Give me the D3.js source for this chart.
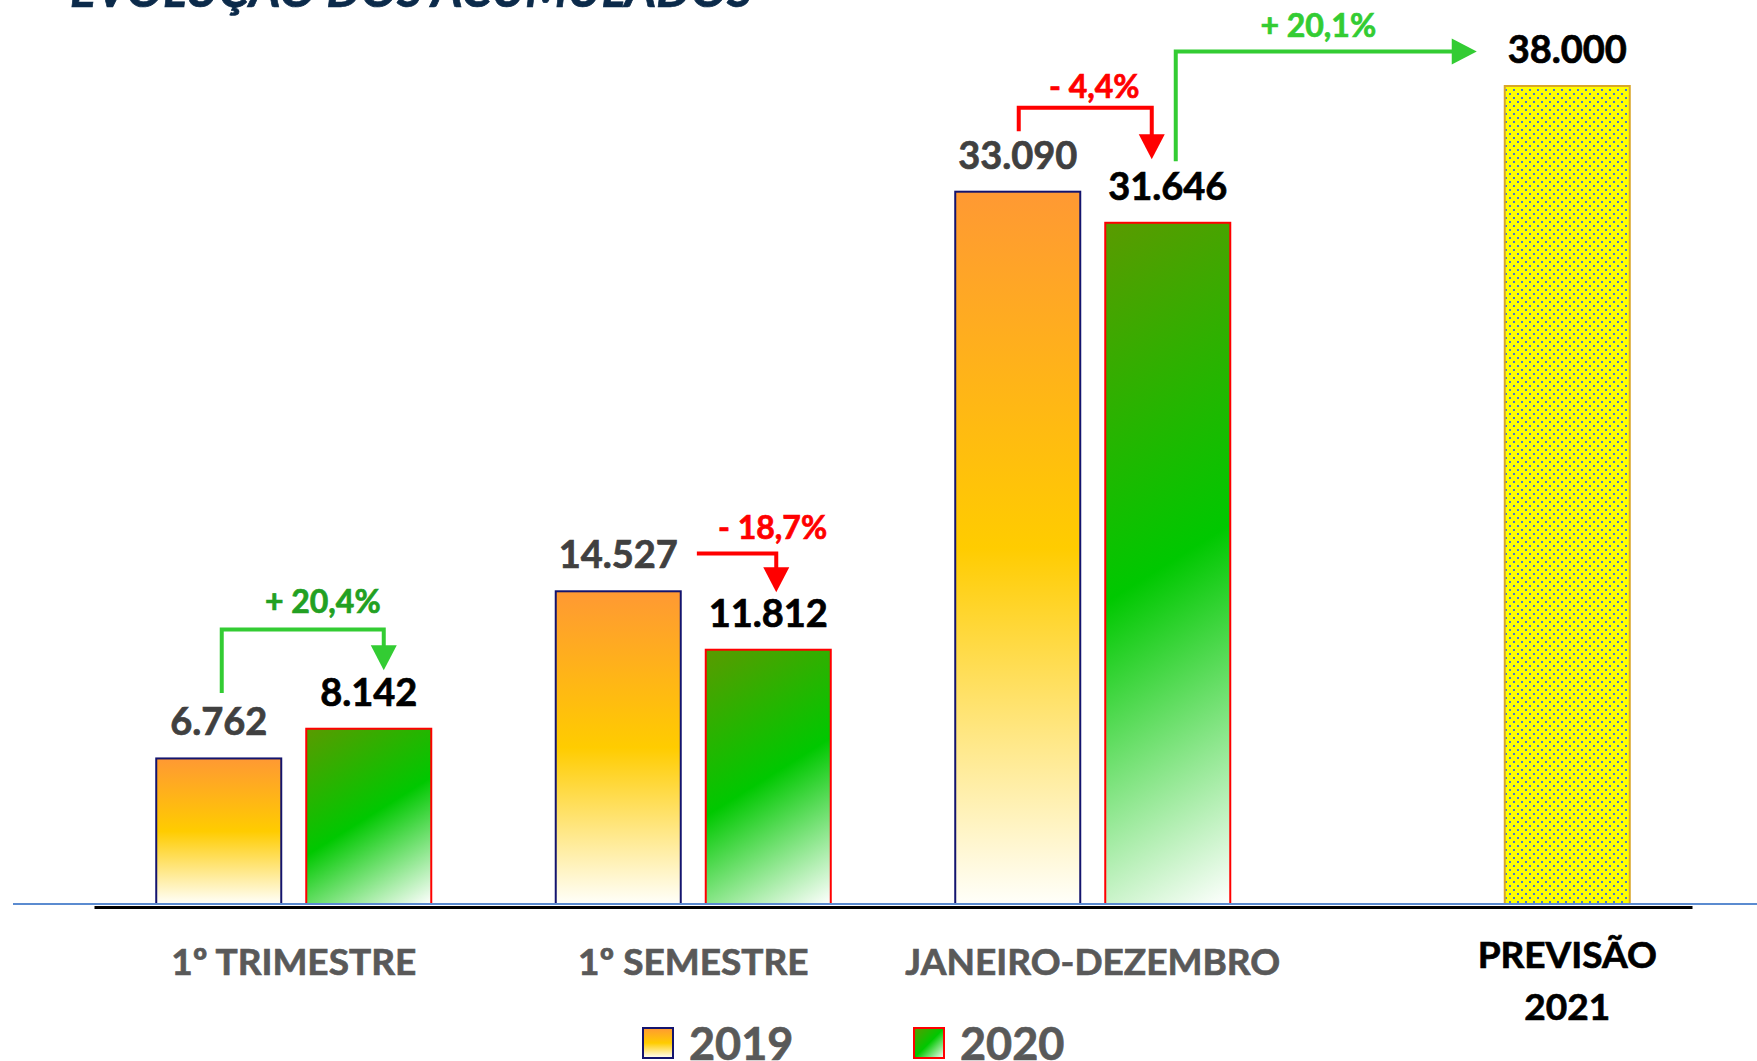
<!DOCTYPE html>
<html>
<head>
<meta charset="utf-8">
<script src="https://cdn.jsdelivr.net/npm/d3@7"></script>
<style>
  html, body { margin: 0; padding: 0; background: #fff; }
  svg { display: block; font-family: Lato, "Noto Sans", sans-serif; }
  .heavy { stroke-width: 0.7px; paint-order: stroke; }
</style>
</head>
<body>
<div id="chart"></div>
<script>
// data
const categories = ["1º TRIMESTRE", "1º SEMESTRE", "JANEIRO-DEZEMBRO", "PREVISÃO\n2021"];
const values2019 = [6762, 14527, 33090, null];
const values2020 = [8142, 11812, 31646, null];
const forecast2021 = [null, null, null, 38000];
const legendLabels = ["2019", "2020"];

// variation arrows: from bar -> to bar, text, height of the bracket (in value units)
const changeLabels = ["+ 20,4%", "- 18,7%", "- 4,4%", "+ 20,1%"];
const changeFrom = [[0, "2019"], [1, "2019"], [2, "2019"], [2, "2020"]];
const changeTo = [[0, "2020"], [1, "2020"], [2, "2020"], [3, "2021"]];
const changeLevels = [12750, 16280, 36990, 39600];

// arrow drawing styles (offsets relative to bars / labels)
const arrowStyle = [
  { kind: "bracket", line: "#33CC33", text: "#22A022", dx0: 3, dx1: 15, gap0: 15, gap1: 8, tdx: 20, tdy: -17 },
  { kind: "side",    line: "#FF0000", text: "#FF0000", dx0: 19, dx1: 8, gap1: 7, tdx: 36, tdy: -15 },
  { kind: "bracket", line: "#FF0000", text: "#FF0000", dx0: 1, dx1: -16, gap0: 10, gap1: 13, tdx: 9, tdy: -10 },
  { kind: "right",   line: "#33CC33", text: "#33CC33", dx0: 8, gap0: 11, dx1: -28, tdx: -8, tdy: -15 }
];

const width = 1757, height = 1061;
const baseY = 904;

const fmt = d3.formatLocale({ decimal: ",", thousands: ".", grouping: [3], currency: ["", ""] }).format(",d");

const svg = d3.select("#chart").append("svg")
  .attr("width", width)
  .attr("height", height);

const defs = svg.append("defs");

// 2019 fill: orange -> yellow -> white, top to bottom
const g19 = defs.append("linearGradient").attr("id", "g2019")
  .attr("x1", 0).attr("y1", 0).attr("x2", 0).attr("y2", 1);
g19.append("stop").attr("offset", 0).attr("stop-color", "#FF9933");
g19.append("stop").attr("offset", 0.5).attr("stop-color", "#FFCC00");
g19.append("stop").attr("offset", 1).attr("stop-color", "#FFFFFA");

// legend swatch for 2020
const g20l = defs.append("linearGradient").attr("id", "g2020legend")
  .attr("x1", 0).attr("y1", 0).attr("x2", 1).attr("y2", 1);
g20l.append("stop").attr("offset", 0).attr("stop-color", "#5A9A00");
g20l.append("stop").attr("offset", 0.5).attr("stop-color", "#00C800");
g20l.append("stop").attr("offset", 1).attr("stop-color", "#FFFFFF");

// dotted yellow pattern for the forecast
const pat = defs.append("pattern").attr("id", "dots")
  .attr("patternUnits", "userSpaceOnUse").attr("width", 8).attr("height", 8);
pat.append("rect").attr("width", 8).attr("height", 8).attr("fill", "#FFFF00");
pat.append("rect").attr("x", 1).attr("y", 1).attr("width", 2).attr("height", 2).attr("fill", "#4A78CC");
pat.append("rect").attr("x", 5).attr("y", 5).attr("width", 2).attr("height", 2).attr("fill", "#4A78CC");

// scales
const x0 = d3.scaleBand()
  .domain(d3.range(categories.length))
  .range([94, 1692])
  .paddingInner(0.3116)
  .paddingOuter(0.1558);

const x1 = d3.scaleBand()
  .domain(["2019", "2020"])
  .range([0, x0.bandwidth()])
  .paddingInner(25 / 150);

const y = d3.scaleLinear().domain([0, 38000]).range([baseY, 86]);

// flatten the bars
const bars = [];
categories.forEach((c, i) => {
  if (values2019[i] != null) bars.push({ i, key: "2019", slot: "2019", v: values2019[i] });
  if (values2020[i] != null) bars.push({ i, key: "2020", slot: "2020", v: values2020[i] });
  if (forecast2021[i] != null) bars.push({ i, key: "2021", slot: "2020", v: forecast2021[i] });
});
bars.forEach(d => {
  d.x = x0(d.i) + x1(d.slot);
  d.w = x1.bandwidth();
  d.y = y(d.v);
  d.h = baseY - d.y;
  d.cx = d.x + d.w / 2;
});
const findBar = (i, key) => bars.find(b => b.i === i && b.key === key);

// per-bar diagonal gradient for 2020
const ang = 58 * Math.PI / 180;
bars.filter(d => d.key === "2020").forEach((d, k) => {
  d.gid = "g2020_" + k;
  const L = d.w * Math.cos(ang) + d.h * Math.sin(ang);
  const g = defs.append("linearGradient").attr("id", d.gid)
    .attr("gradientUnits", "userSpaceOnUse")
    .attr("x1", d.x).attr("y1", d.y)
    .attr("x2", d.x + L * Math.cos(ang)).attr("y2", d.y + L * Math.sin(ang));
  g.append("stop").attr("offset", 0).attr("stop-color", "#5A9A00");
  g.append("stop").attr("offset", 0.5).attr("stop-color", "#00C800");
  g.append("stop").attr("offset", 1).attr("stop-color", "#FFFFFF");
});

const fillOf = d => d.key === "2019" ? "url(#g2019)" : d.key === "2020" ? `url(#${d.gid})` : "url(#dots)";
const strokeOf = d => d.key === "2019" ? "#14146E" : d.key === "2020" ? "#FF0000" : "#D9A62A";

// title (cut at the top of the slide)
svg.append("text")
  .attr("class", "heavy")
  .attr("x", 70).attr("y", 7)
  .attr("fill", "#0B2A4A").attr("stroke", "#0B2A4A")
  .attr("font-size", "48.5px").attr("font-weight", 700).attr("font-style", "italic")
  .text("EVOLUÇÃO DOS ACUMULADOS");

// bars
svg.append("g").selectAll("rect")
  .data(bars)
  .join("rect")
  .attr("x", d => d.x).attr("y", d => d.y)
  .attr("width", d => d.w).attr("height", d => d.h)
  .attr("fill", fillOf)
  .attr("stroke", strokeOf)
  .attr("stroke-width", 2);

// base lines
svg.append("line")
  .attr("x1", 13).attr("x2", width)
  .attr("y1", baseY).attr("y2", baseY)
  .attr("stroke", "#5B8BD0").attr("stroke-width", 2);

const axis = svg.append("g")
  .attr("transform", `translate(0,${baseY + 3})`)
  .call(d3.axisBottom(x0).tickSize(0).tickSizeOuter(0).tickFormat(""));
axis.select(".domain").attr("stroke", "#000").attr("stroke-width", 3);

// category labels, centred under the bars of each category
categories.forEach((c, i) => {
  const bs = bars.filter(b => b.i === i);
  const cx = d3.mean(bs, b => b.cx);
  const lines = c.split("\n");
  const col = bs.some(b => b.key === "2021") ? "#000" : "#595959";
  const t = svg.append("text")
    .attr("class", "heavy")
    .attr("x", cx).attr("y", lines.length > 1 ? 968 : 975)
    .attr("text-anchor", "middle")
    .attr("font-size", "37px").attr("font-weight", 700)
    .attr("fill", col).attr("stroke", col);
  lines.forEach((l, k) => t.append("tspan").attr("x", cx).attr("dy", k ? 52 : 0).text(l));
});

// value labels
const valueLabels = svg.append("g").selectAll("text")
  .data(bars)
  .join("text")
  .attr("class", "heavy")
  .attr("x", d => d.cx).attr("y", d => d.y - 23)
  .attr("text-anchor", "middle")
  .attr("font-size", "38px").attr("font-weight", 700)
  .attr("fill", d => d.key === "2019" ? "#404040" : "#000")
  .attr("stroke", d => d.key === "2019" ? "#404040" : "#000")
  .text(d => fmt(d.v));
valueLabels.each(function(d) { d.labelW = this.getComputedTextLength(); d.labelTop = d.y - 23 - 27.5; });

// variation arrows
const head = 25, halfHead = 13;
changeLabels.forEach((label, k) => {
  const s = arrowStyle[k];
  const a = findBar(changeFrom[k][0], changeFrom[k][1]);
  const b = findBar(changeTo[k][0], changeTo[k][1]);
  const ly = y(changeLevels[k]);
  const g = svg.append("g");
  let path, tri, x0a, x1a;

  if (s.kind === "bracket") {
    x0a = a.cx + s.dx0; x1a = b.cx + s.dx1;
    const tip = b.labelTop - s.gap1;
    path = d3.line()([[x0a, a.labelTop - s.gap0], [x0a, ly], [x1a, ly], [x1a, tip - head + 2]]);
    tri = [[x1a - halfHead, tip - head], [x1a + halfHead, tip - head], [x1a, tip]];
  } else if (s.kind === "side") {
    x0a = a.cx + a.labelW / 2 + s.dx0; x1a = b.cx + s.dx1;
    const tip = b.labelTop - s.gap1;
    path = d3.line()([[x0a, ly], [x1a, ly], [x1a, tip - head + 2]]);
    tri = [[x1a - halfHead, tip - head], [x1a + halfHead, tip - head], [x1a, tip]];
  } else {
    x0a = a.cx + s.dx0;
    const tipX = b.x + s.dx1;
    x1a = tipX;
    path = d3.line()([[x0a, a.labelTop - s.gap0], [x0a, ly], [tipX - head + 2, ly]]);
    tri = [[tipX - head, ly - halfHead], [tipX - head, ly + halfHead], [tipX, ly]];
  }

  g.append("path").attr("d", path)
    .attr("fill", "none").attr("stroke", s.line).attr("stroke-width", 4);
  g.append("path").attr("d", d3.line()(tri) + "Z").attr("fill", s.line);
  g.append("text")
    .attr("class", "heavy")
    .attr("x", (x0a + x1a) / 2 + s.tdx).attr("y", ly + s.tdy)
    .attr("text-anchor", "middle")
    .attr("font-size", "32px").attr("font-weight", 700)
    .attr("fill", s.text).attr("stroke", s.text)
    .text(label);
});

// legend
const legendX = [643, 914];
const legendFill = ["url(#g2019)", "url(#g2020legend)"];
const legendStroke = ["#14146E", "#FF0000"];
legendLabels.forEach((l, k) => {
  svg.append("rect")
    .attr("x", legendX[k]).attr("y", 1028).attr("width", 30).attr("height", 30)
    .attr("fill", legendFill[k]).attr("stroke", legendStroke[k]).attr("stroke-width", 2);
  svg.append("text")
    .attr("class", "heavy")
    .attr("x", legendX[k] + 46).attr("y", 1060)
    .attr("font-size", "45px").attr("font-weight", 700)
    .attr("fill", "#595959").attr("stroke", "#595959")
    .text(l);
});
</script>
</body>
</html>
